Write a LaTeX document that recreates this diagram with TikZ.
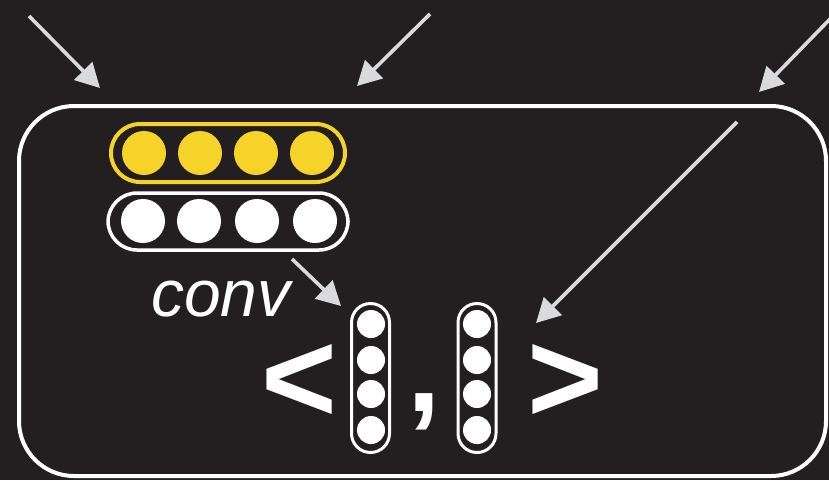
\documentclass[tikz,border=0pt]{standalone}
\usepackage{fontspec}
\setmainfont{Liberation Sans}
\usetikzlibrary{arrows.meta}
\definecolor{bg}{HTML}{231F20}
\definecolor{arrowgray}{HTML}{D9DADC}
\definecolor{gold}{HTML}{F5D328}
\begin{document}
\begin{tikzpicture}[x=1pt,y=-1pt,
  garrow/.style={draw=arrowgray,line width=3.6pt,-{Triangle[length=24pt,width=25pt]}},
  hpill/.style={draw,line width=4pt,minimum width=#1,minimum height=58pt,rounded corners=29pt,inner sep=0pt},
  vpill/.style={draw=white,line width=3pt,minimum width=38pt,minimum height=149pt,rounded corners=19pt,inner sep=0pt},
  bigdot/.style={circle,fill=#1,minimum size=44pt,inner sep=0pt},
  smalldot/.style={circle,fill=white,minimum size=28pt,inner sep=0pt},
  bigtxt/.style={text=white,font=\fontsize{130}{130}\selectfont\bfseries,inner sep=0pt,anchor=base}
]
\fill[bg] (0,0) rectangle (829,480);
\useasboundingbox (0,0) rectangle (829,480);
% main frame
\node[draw=white,line width=4pt,rounded corners=55pt,minimum width=807pt,minimum height=370pt,inner sep=0pt] (frame) at (422.5,291) {};
% horizontal pills
\node[hpill=234pt,draw=gold] (ypill) at (228,153) {};
\node[hpill=240pt,draw=white,line width=3.5pt,minimum height=57pt] (wpill) at (228,221.5) {};
\foreach \i/\x in {1/144,2/200,3/256,4/312}{
  \node[bigdot=gold] (y\i) at (\x,153) {};
}
\foreach \i/\x in {1/143,2/199,3/257,4/315}{
  \node[bigdot=white] (w\i) at (\x,221) {};
}
% vertical pills
\node[vpill] (vl) at (370.5,378) {};
\node[vpill] (vr) at (477,378) {};
\foreach \i/\y in {1/324,2/360,3/394,4/430}{
  \node[smalldot] (l\i) at (371,\y) {};
  \node[smalldot] (r\i) at (477,\y) {};
}
% brackets
\node[bigtxt] (lt) at (299,422) {<};
\node[bigtxt,font=\fontsize{120}{120}\selectfont\bfseries] (cm) at (424,411) {,};
\node[bigtxt] (gt) at (565,422) {>};
% conv label
\node[text=white,font=\fontsize{66}{66}\selectfont\itshape,inner sep=0pt,anchor=base west] (conv) at (151,316) {conv};
% arrows
\coordinate (a1s) at (29,16);   \coordinate (a1e) at (100,88);
\coordinate (a2s) at (430,14);  \coordinate (a2e) at (357,86);
\coordinate (a3s) at (831,18);  \coordinate (a3e) at (759,92);
\coordinate (a4s) at (737,122); \coordinate (a4e) at (536,323);
\coordinate (a5s) at (292,259); \coordinate (a5e) at (341,306);
\draw[garrow] (a1s) -- (a1e);
\draw[garrow] (a2s) -- (a2e);
\draw[garrow] (a3s) -- (a3e);
\draw[garrow] (a4s) -- (a4e);
\draw[garrow] (a5s) -- (a5e);
\end{tikzpicture}
\end{document}
